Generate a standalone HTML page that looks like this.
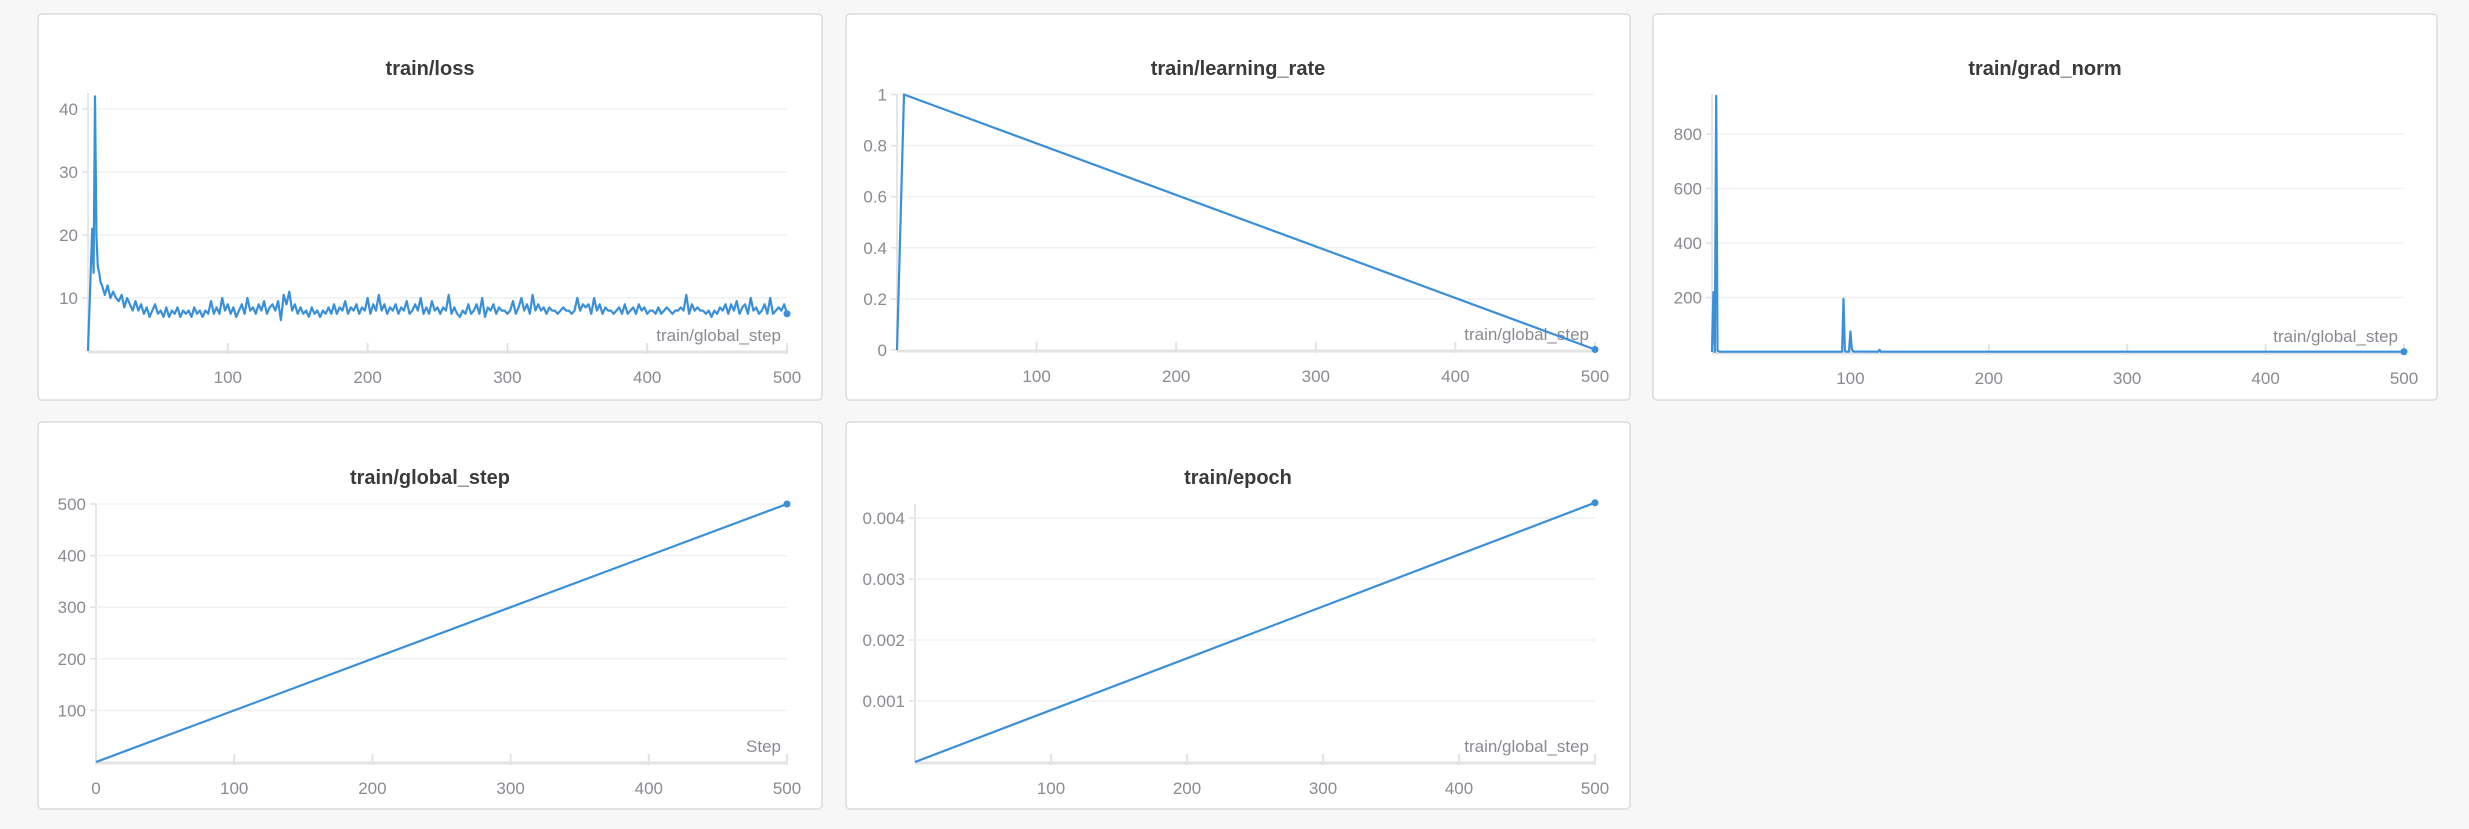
<!DOCTYPE html>
<html><head><meta charset="utf-8"><style>
html,body{margin:0;padding:0;background:#f7f7f7;width:2469px;height:829px;overflow:hidden}
svg{display:block;font-family:"Liberation Sans Narrow","Liberation Sans",sans-serif}
.tick{fill:#8a8a92;font-size:17px}
.title{fill:#3a3a3a;font-size:20px;font-weight:bold}
</style></head><body>
<svg id="root" width="2469" height="829" xmlns="http://www.w3.org/2000/svg"></svg>
<script>
// ---- data ----
const lossSteps = [0,3,4,5,6,7,8,9,10,12,14,16,18,20,22,24,26,28,30,32,34,36,38,40,42,44,46,48,50,52,54,56,58,60,62,64,66,68,70,72,74,76,78,80,82,84,86,88,90,92,94,96,98,100,102,104,106,108,110,112,114,116,118,120,122,124,126,128,130,132,134,136,138,140,142,144,146,148,150,152,154,156,158,160,162,164,166,168,170,172,174,176,178,180,182,184,186,188,190,192,194,196,198,200,202,204,206,208,210,212,214,216,218,220,222,224,226,228,230,232,234,236,238,240,242,244,246,248,250,252,254,256,258,260,262,264,266,268,270,272,274,276,278,280,282,284,286,288,290,292,294,296,298,300,302,304,306,308,310,312,314,316,318,320,322,324,326,328,330,332,334,336,338,340,342,344,346,348,350,352,354,356,358,360,362,364,366,368,370,372,374,376,378,380,382,384,386,388,390,392,394,396,398,400,402,404,406,408,410,412,414,416,418,420,422,424,426,428,430,432,434,436,438,440,442,444,446,448,450,452,454,456,458,460,462,464,466,468,470,472,474,476,478,480,482,484,486,488,490,492,494,496,498,500];
const lossValues = [1.6,21,14,42,20,15,14,12.5,12,10.5,12,10,11,10,9.5,10.5,8.5,10,9,8,9.5,8,9,7.5,8.5,7,8,9,7.5,8,7,8.5,7,8,7.5,8.5,7,8,7.5,8,7,8.5,7.5,8,7,8,7.5,9.5,7.5,8.5,7.5,10,8,9,7.5,8.5,7,8,9,7.5,10,8,8.5,7.5,9,8,9.5,7.5,8.5,9,8,9.5,6.5,10.5,9,11,8,9,7.5,8.5,7.5,8,7,8.5,7.5,8,7,8,7.5,8.5,7.5,9,7.5,8.5,8,9.5,7.5,8.5,8,9,7.5,8.5,8,10,7.5,9,8,10.5,8,9,7.5,8.5,8,9,7.5,8.5,8,9.5,7.5,8,9,8,10,7.5,8.5,7.5,9.5,8,8.5,7.5,8.5,8,10.5,7.5,8.5,7.5,7,8,7.5,9,7.5,8,9,7.5,10,7,8.5,8,9,7.5,8.5,8,8,7.5,8,9.5,7.5,8.5,10,8,9,7.5,10.5,8,9,8,8.5,7.5,8.5,8,8,7.5,8,8.5,8,8,7.5,8,10,8,9,8.5,9,7.5,10,8,9,7.5,8.5,8,8,7.5,8,8.5,7.5,9,7.5,8,8.5,7.5,9,8,8.5,7.5,8,8,7.5,8.5,7.5,8,8.5,8,7.5,8,8,8.5,8,10.5,7.5,9,8,8.5,8,8,7.5,8,7,8,7.5,8.5,8,9,7.5,9,8,9.5,7.5,8.5,9,7.5,10,8,8.5,7.5,8,9,7.5,10,7.5,8,8.5,8,9,7.5,8];
const lrSteps = [0,5,500];
const lrValues = [0,1,0.002];
const gradSteps = [0,1,2,3,4,5,6,10,50,93,94,95,96,97,99,100,101,102,120,121,122,200,300,400,500];
const gradValues = [0,220,0,940,5,2,1,1,1,1,2,195,3,1,2,75,12,2,1,8,1,1,1,1,1];
const gsSteps = [0,500];
const gsValues = [0,500];
const epochSteps = [0,500];
const epochValues = [0,0.00425];
const xTicks = [100,200,300,400,500];
const lossYTicks = [10,20,30,40];
const lrYTicks = [0,0.2,0.4,0.6,0.8,1];
const gradYTicks = [200,400,600,800];
const gsYTicks = [100,200,300,400,500];
const epochYTicks = [0.001,0.002,0.003,0.004];

const NS="http://www.w3.org/2000/svg";
const root=document.getElementById('root');
function mk(tag,attrs,parent){const e=document.createElementNS(NS,tag);for(const k in attrs)e.setAttribute(k,attrs[k]);(parent||root).appendChild(e);return e;}

function chart(c){
  const g=mk('g',{});
  
  
  const card=mk('rect',{x:c.px,y:c.py,width:c.pw,height:c.ph,rx:4,fill:'#fff',stroke:'#dcdcdc','stroke-width':1.5},g);
  
  
  const t=mk('text',{x:c.px+c.pw/2,y:c.titleY,'text-anchor':'middle',class:'title'},g);
  t.textContent=c.title;
  
  
  const X=v=>c.x0+(v/500)*(c.x500-c.x0);
  const Y=v=>c.ya[1]+(v-c.ya[0])*(c.yb[1]-c.ya[1])/(c.yb[0]-c.ya[0]);
  mk('line',{x1:c.x0,y1:c.top,x2:c.x0,y2:c.bottom,stroke:'#e6e6e6','stroke-width':2},g);
  c.yTicks.forEach(v=>{
    const y=Y(v);
    if(v!==0){const gl=mk('line',{x1:c.x0,y1:y,x2:c.x500,y2:y,stroke:'#f0f0f0','stroke-width':1.5},g);
      
      }
    mk('line',{x1:c.x0-6,y1:y,x2:c.x0,y2:y,stroke:'#e0e0e0','stroke-width':1.5},g);
    const tx=mk('text',{x:c.x0-10,y:y+6,'text-anchor':'end',class:'tick'},g);
    tx.textContent=c.yFmt?c.yFmt(v):String(v);
    
    
  });
  mk('line',{x1:c.x0,y1:c.bottom+1,x2:c.x500,y2:c.bottom+1,stroke:'#e3e3e3','stroke-width':3},g);
  const xt=c.zeroX?[0].concat(xTicks):xTicks;
  xt.forEach(v=>{
    const x=X(v);
    mk('line',{x1:x,y1:c.bottom-8,x2:x,y2:c.bottom+3,stroke:'#e3e3e3','stroke-width':2},g);
    const tx=mk('text',{x:x,y:c.bottom+32,'text-anchor':'middle',class:'tick'},g);
    tx.textContent=String(v);
    
    
  });
  const xl=mk('text',{x:c.x500-6,y:c.bottom-10,'text-anchor':'end',class:'tick'},g);
  xl.textContent=c.xLabel;
  
  
  const len=Math.min(c.steps.length,c.vals.length);
  const steps=c.steps.slice(0,len), vals=c.vals.slice(0,len);
  const d=steps.map((s,i)=>(i?'L':'M')+X(s).toFixed(1)+','+Y(vals[i]).toFixed(1)).join(' ');
  const p=mk('path',{d:d,fill:'none',stroke:'#3a8fd9','stroke-width':2.2,'stroke-linejoin':'round'},g);
  
  
  const n=len-1;
  const dot=mk('circle',{cx:X(steps[n]),cy:Y(vals[n]),r:3.5,fill:'#3a8fd9'},g);
  
  
}

chart({name:'loss',title:'train/loss',px:38,py:14,pw:784,ph:386,titleY:75,x0:88,x500:787,top:93,bottom:351,ya:[10,298],yb:[40,109],yTicks:lossYTicks,steps:lossSteps,vals:lossValues,xLabel:'train/global_step'});
chart({name:'learning-rate',title:'train/learning_rate',px:846,py:14,pw:784,ph:386,titleY:75,x0:897,x500:1595,top:94,bottom:350,ya:[0,350],yb:[1,94.5],yTicks:lrYTicks,steps:lrSteps,vals:lrValues,xLabel:'train/global_step'});
chart({name:'grad-norm',title:'train/grad_norm',px:1653,py:14,pw:784,ph:386,titleY:75,x0:1712,x500:2404,top:94,bottom:352,ya:[0,352],yb:[800,134],yTicks:gradYTicks,steps:gradSteps,vals:gradValues,xLabel:'train/global_step'});
chart({name:'global-step',title:'train/global_step',px:38,py:422,pw:784,ph:387,titleY:484,x0:96,x500:787,top:504,bottom:762,ya:[0,762],yb:[500,504],yTicks:gsYTicks,steps:gsSteps,vals:gsValues,xLabel:'Step',zeroX:true});
chart({name:'epoch',title:'train/epoch',px:846,py:422,pw:784,ph:387,titleY:484,x0:915,x500:1595,top:504,bottom:762,ya:[0,762],yb:[0.004,518],yTicks:epochYTicks,steps:epochSteps,vals:epochValues,xLabel:'train/global_step',yFmt:v=>v.toFixed(3)});
</script>
</body></html>
